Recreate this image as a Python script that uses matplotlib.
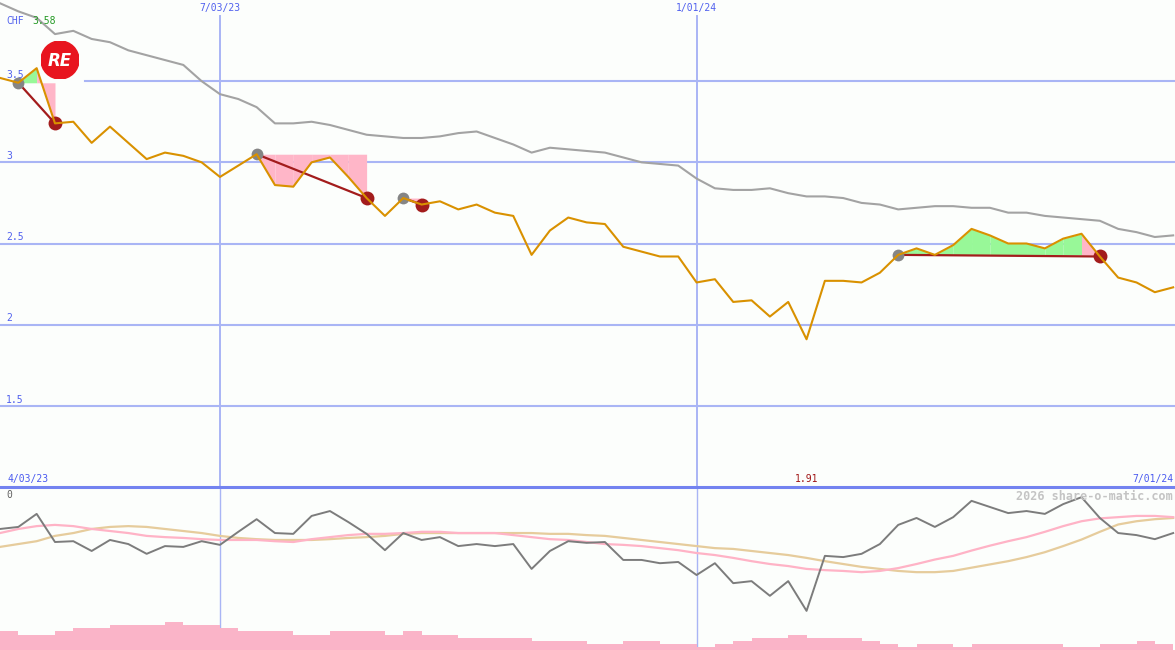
import matplotlib.pyplot as plt
import matplotlib.transforms as mtransforms
from matplotlib.patches import Circle
import pandas as pd

# weekly closes (CHF) and the slow moving average
price = [3.52, 3.49, 3.58, 3.24, 3.25, 3.12, 3.22, 3.12, 3.02, 3.06,
         3.04, 3.00, 2.91, 2.98, 3.05, 2.86, 2.85, 3.00, 3.03, 2.91,
         2.78, 2.67, 2.78, 2.74, 2.76, 2.71, 2.74, 2.69, 2.67, 2.43,
         2.58, 2.66, 2.63, 2.62, 2.48, 2.45, 2.42, 2.42, 2.26, 2.28,
         2.14, 2.15, 2.05, 2.14, 1.91, 2.27, 2.27, 2.26, 2.32, 2.43,
         2.47, 2.43, 2.49, 2.59, 2.55, 2.50, 2.50, 2.47, 2.53, 2.56,
         2.42, 2.29, 2.26, 2.20, 2.23]
ma_slow = [3.98, 3.93, 3.89, 3.79, 3.81, 3.76, 3.74, 3.69, 3.66, 3.63,
           3.60, 3.50, 3.42, 3.39, 3.34, 3.24, 3.24, 3.25, 3.23, 3.20,
           3.17, 3.16, 3.15, 3.15, 3.16, 3.18, 3.19, 3.15, 3.11, 3.06,
           3.09, 3.08, 3.07, 3.06, 3.03, 3.00, 2.99, 2.98, 2.90, 2.84,
           2.83, 2.83, 2.84, 2.81, 2.79, 2.79, 2.78, 2.75, 2.74, 2.71,
           2.72, 2.73, 2.73, 2.72, 2.72, 2.69, 2.69, 2.67, 2.66, 2.65,
           2.64, 2.59, 2.57, 2.54, 2.55]

# lower panel: oscillator and its two averages
osc = [-10.3, -9.8, -6.6, -13.5, -13.3, -15.7, -13.0, -14.0, -16.4, -14.5,
       -14.7, -13.3, -14.2, -11.0, -7.9, -11.3, -11.5, -7.1, -5.9, -8.6,
       -11.5, -15.5, -11.3, -13.0, -12.3, -14.5, -14.0, -14.5, -14.0, -20.1,
       -15.7, -13.3, -13.7, -13.5, -17.9, -17.9, -18.7, -18.4, -21.6, -18.7,
       -23.6, -23.1, -26.7, -23.1, -30.4, -16.9, -17.2, -16.4, -14.0, -9.3,
       -7.6, -9.8, -7.4, -3.4, -4.9, -6.4, -5.9, -6.6, -4.2, -2.5,
       -7.6, -11.3, -11.8, -12.8, -11.3]
osc_fast = [-11.3, -10.3, -9.6, -9.3, -9.6, -10.3, -10.8, -11.3, -12.0, -12.3,
            -12.5, -12.8, -13.0, -13.0, -13.0, -13.3, -13.5, -12.8, -12.3, -11.8,
            -11.5, -11.5, -11.3, -11.0, -11.0, -11.3, -11.3, -11.3, -11.8, -12.3,
            -12.8, -13.0, -13.5, -14.0, -14.2, -14.5, -15.0, -15.5, -16.2, -16.7,
            -17.4, -18.2, -18.9, -19.4, -20.1, -20.4, -20.6, -20.9, -20.6, -19.9,
            -18.9, -17.8, -16.9, -15.6, -14.4, -13.3, -12.3, -11.0, -9.6, -8.4,
            -7.7, -7.4, -7.1, -7.1, -7.4]
osc_slow = [-14.7, -14.0, -13.3, -12.0, -11.3, -10.3, -9.8, -9.6, -9.8, -10.3,
            -10.8, -11.3, -12.0, -12.5, -12.8, -13.0, -13.0, -13.0, -12.8, -12.5,
            -12.3, -12.0, -11.5, -11.3, -11.3, -11.3, -11.3, -11.3, -11.3, -11.3,
            -11.5, -11.5, -11.8, -12.0, -12.5, -13.0, -13.5, -14.0, -14.5, -15.0,
            -15.2, -15.7, -16.2, -16.7, -17.4, -18.2, -18.9, -19.6, -20.1, -20.6,
            -20.9, -20.9, -20.6, -19.8, -19.0, -18.2, -17.2, -16.0, -14.5, -12.9,
            -11.0, -9.2, -8.4, -7.9, -7.6]
volume = [6, 5, 5, 6, 7, 7, 8, 8, 8, 9, 8, 8, 7, 6, 6, 6, 5, 5, 6, 6,
          6, 5, 6, 5, 5, 4, 4, 4, 4, 3, 3, 3, 2, 2, 3, 3, 2, 2, 1, 2,
          3, 4, 4, 5, 4, 4, 4, 3, 2, 1, 2, 2, 1, 2, 2, 2, 2, 2, 1, 1,
          2, 2, 3, 2]

# (entry week, exit week)
trades = [(1, 3), (14, 20), (22, 23), (49, 60)]

start = "2023-04-10"
grid_dates = ["2023-07-03", "2024-01-01"]
price_ticks = [3.5, 3, 2.5, 2, 1.5]
range_labels = ["4/03/23", "7/01/24"]
currency = "CHF"
watermark = "2026 share-o-matic.com"

BG = "#fcfefc"
GRID = "#a9b5f5"
AXIS = "#7383f0"
LABEL = "#5060ee"
ORANGE = "#d99100"
GREEN = "#98f898"
PINK = "#ffb6c8"
DARKRED = "#a31c1c"
MONO = "DejaVu Sans Mono"

W, H = 1175, 650
split = 487  # pixel row where the lower panel starts

weeks = pd.date_range(start, periods=len(price), freq="7D")
x_end = weeks[0] + pd.Timedelta(days=7 * 64.1)

fig = plt.figure(figsize=(W / 100, H / 100), dpi=100, facecolor=BG)
ax = fig.add_axes([0, (H - split) / H, 1, split / H])
ax2 = fig.add_axes([0, 0, 1, (H - split) / H])
for a in (ax, ax2):
    a.set_facecolor(BG)
    a.set_xlim(weeks[0], x_end)
    a.set_xticks([])
    a.set_yticks([])
    for s in a.spines.values():
        s.set_visible(False)

# Upper panel
ax.set_ylim(1.0, 4.0)
ytrans = mtransforms.blended_transform_factory(ax.transAxes, ax.transData)
xtrans = mtransforms.blended_transform_factory(ax.transData, ax.transAxes)

for t in price_ticks:
    xmin = 85 / W if t == 3.5 else 0
    ax.axhline(t, xmin=xmin, color=GRID, lw=1.5, zorder=1)
    ax.text(6 / W, t + 0.008, f"{t:g}", transform=ytrans, va="bottom",
            fontsize=7, family=MONO, color=LABEL, zorder=1)

for d in grid_dates:
    d = pd.Timestamp(d)
    ax.axvline(d, ymax=(split - 16) / split, color=GRID, lw=1.4, zorder=1)
    ax2.axvline(d, color=GRID, lw=1.0, zorder=1)
    ax.text(d, 1 - 8 / split, f"{d.month}/{d.day:02d}/{d:%y}", transform=xtrans,
            ha="center", va="center", fontsize=7, family=MONO, color=LABEL)

# trades: shaded against entry level, line from entry to exit
for a, b in trades:
    e = price[a]
    for k in range(a, b):
        c = GREEN if price[k + 1] >= e else PINK
        ax.fill_between(weeks[k:k + 2], price[k:k + 2], e, color=c, lw=0, zorder=2)
    ax.plot([weeks[a], weeks[b]], [price[a], price[b]], color=DARKRED, lw=1.6, zorder=3)
    ax.plot(weeks[a], price[a], "o", color="#858585", ms=8.5, mew=0, zorder=3.5)
    ax.plot(weeks[b], price[b], "o", color=DARKRED, ms=10, mew=0, zorder=3.5)

ax.plot(weeks, ma_slow, color="#a3a3a3", lw=1.5, zorder=4)
ax.plot(weeks, price, color=ORANGE, lw=1.5, zorder=5)

# header and range labels
fig.text(6 / W, 1 - 21 / H, currency, fontsize=7, family=MONO, color=LABEL, va="center")
fig.text(32 / W, 1 - 21 / H, f"{max(price):.2f}", fontsize=7, family=MONO,
         color="#229922", va="center")
ax.text(8 / W, 1 - 479 / split, range_labels[0], transform=ax.transAxes,
        fontsize=7, family=MONO, color="#4a5af0", va="center")
ax.text(1 - 2 / W, 1 - 479 / split, range_labels[1], transform=ax.transAxes,
        fontsize=7, family=MONO, color="#4a5af0", va="center", ha="right")
i_min = price.index(min(price))
ax.text(weeks[i_min], 1 - 479 / split, f"{min(price):.2f}", transform=xtrans,
        fontsize=7, family=MONO, color="#a01414", va="center", ha="center")

# logo
lax = fig.add_axes([41 / W, 1 - 79 / H, 38 / W, 38 / H])
lax.set_xlim(-1, 1)
lax.set_ylim(-1, 1)
lax.set_axis_off()
lax.add_patch(Circle((0, 0), 1, color="#e8141e"))
lax.text(0, -0.05, "RE", color="white", fontsize=12, fontweight="bold",
         fontstyle="italic", ha="center", va="center")

# Lower panel
ax2.set_ylim(-40, 0)
ax2.axhline(0, color=AXIS, lw=2.2, clip_on=False, zorder=6)
ax2.plot(weeks, osc_slow, color="#e6cc9c", lw=1.6, zorder=2)
ax2.plot(weeks, osc_fast, color="#ffb3c6", lw=1.6, zorder=2)
ax2.plot(weeks, osc, color="#7c7c7c", lw=1.4, zorder=3)

ax3 = ax2.twinx()
ax3.set_ylim(0, (H - split) / 3.1)
ax3.set_axis_off()
ax3.bar(weeks[:-1], volume, width=7, align="edge", color="#fab4c8", lw=0)

ax2.text(6 / W, 1 - 8 / (H - split), "0", transform=ax2.transAxes,
         fontsize=7, family=MONO, color="#606060", va="center")
ax2.text(6 / W, 1 - 154 / (H - split), "-40", transform=ax2.transAxes,
         fontsize=7, family=MONO, color="#606060", va="center")
ax2.text(1 - 2 / W, 1 - 10 / (H - split), watermark, transform=ax2.transAxes,
         fontsize=8.5, family=MONO, fontweight="bold", color="#c4c4c4",
         va="center", ha="right")

fig.savefig("out.png", dpi=100, facecolor=BG)
